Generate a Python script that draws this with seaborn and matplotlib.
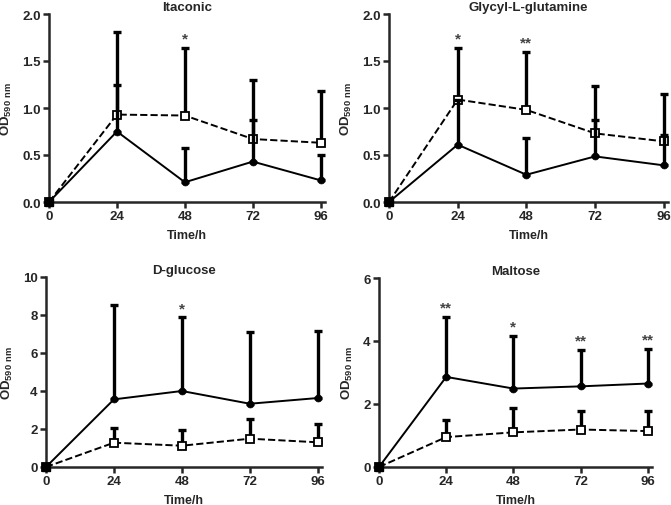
import numpy as np
import pandas as pd
import matplotlib
matplotlib.use('Agg')
import matplotlib.pyplot as plt
import seaborn as sns

sns.set_style('ticks')
plt.rcParams['font.family'] = ['Liberation Sans', 'DejaVu Sans']
plt.rcParams['font.weight'] = 'bold'
plt.rcParams['mathtext.fontset'] = 'custom'
plt.rcParams['mathtext.rm'] = 'Liberation Sans:bold'
plt.rcParams['mathtext.bf'] = 'Liberation Sans:bold'

hours = [0, 24, 48, 72, 96]
titles = ['Itaconic', 'Glycyl-L-glutamine', 'D-glucose', 'Maltose']

# solid line, filled circles
solid_mean = [
    [0, 0.75, 0.21, 0.43, 0.23],
    [0, 0.61, 0.29, 0.485, 0.39],
    [0, 3.56, 4.00, 3.33, 3.63],
    [0, 2.86, 2.49, 2.56, 2.65],
]
solid_top = [
    [0, 1.25, 0.57, 0.87, 0.50],
    [0, 1.09, 0.68, 0.87, 0.715],
    [0, 8.54, 7.88, 7.09, 7.18],
    [0, 4.76, 4.16, 3.72, 3.75],
]
# dashed line, open squares
square_mean = [
    [0, 0.93, 0.92, 0.67, 0.63],
    [0, 1.09, 0.98, 0.73, 0.645],
    [0, 1.28, 1.12, 1.49, 1.30],
    [0, 0.95, 1.10, 1.19, 1.14],
]
square_top = [
    [0, 1.81, 1.64, 1.30, 1.18],
    [0, 1.64, 1.60, 1.23, 1.15],
    [0, 2.05, 1.95, 2.54, 2.25],
    [0, 1.48, 1.88, 1.77, 1.78],
]
# significance marks: (panel, hour index, text, sits on which series)
stars = [
    (0, 2, '*', 'square'),
    (1, 1, '*', 'square'), (1, 2, '**', 'square'),
    (2, 2, '*', 'solid'),
    (3, 1, '**', 'solid'), (3, 2, '*', 'solid'), (3, 3, '**', 'solid'), (3, 4, '**', 'solid'),
]
ylims = [2.0, 2.0, 10, 6]
yticks = [[0, 0.5, 1.0, 1.5, 2.0], [0, 0.5, 1.0, 1.5, 2.0], [0, 2, 4, 6, 8, 10], [0, 2, 4, 6]]

fig = plt.figure(figsize=(6.71, 5.06), dpi=100)
W, H = 671, 506
boxes = [(49, 15, 325, 203), (389, 15, 668, 203), (46, 278, 322, 468), (379, 279, 652, 468)]
axes = []
for (l, t, r, b) in boxes:
    axes.append(fig.add_axes([l / W, 1 - b / H, (r - l) / W, (b - t) / H]))

for i, ax in enumerate(axes):
    df = pd.DataFrame({
        'hour': hours * 2,
        'od': solid_mean[i] + square_mean[i],
        'grp': ['solid'] * 5 + ['square'] * 5,
    })
    sm = np.array(solid_mean[i]); st = np.array(solid_top[i])
    qm = np.array(square_mean[i]); qt = np.array(square_top[i])
    # one-sided error bars
    ax.errorbar(hours[1:], qm[1:], yerr=[np.zeros(4), (qt - qm)[1:]], fmt='none',
                ecolor='black', elinewidth=2.4, capsize=3, capthick=2.4,
                zorder=2, clip_on=False)
    ax.errorbar(hours[1:], sm[1:], yerr=[np.zeros(4), (st - sm)[1:]], fmt='none',
                ecolor='black', elinewidth=2.4, capsize=3, capthick=2.4,
                zorder=5, clip_on=False)
    sns.lineplot(data=df[df.grp == 'solid'], x='hour', y='od', ax=ax, color='black',
                 lw=1.4, marker='o', markersize=5, markeredgecolor='black',
                 markeredgewidth=0.5, markerfacecolor='black', zorder=3, clip_on=False)
    sns.lineplot(data=df[df.grp == 'square'], x='hour', y='od', ax=ax, color='black',
                 lw=1.4, dashes=(3.5, 2), linestyle='--', marker='s', markersize=5.5,
                 markeredgecolor='black', markerfacecolor='white', markeredgewidth=1.3,
                 zorder=4, clip_on=False)
    ax.plot([0], [0], marker='s', color='black', markersize=6, zorder=6, clip_on=False)

    ax.set_xlim(0, 97.5)
    ax.set_ylim(0, ylims[i])
    ax.set_xticks(hours)
    ax.set_yticks(yticks[i])
    if ylims[i] == 2.0:
        ax.set_yticklabels(['%.1f' % v for v in yticks[i]])
    ax.tick_params(width=1.8, length=4, labelsize=9.5, pad=2)
    for lab in ax.get_xticklabels() + ax.get_yticklabels():
        lab.set_fontweight('bold')
    for s in ['left', 'bottom']:
        ax.spines[s].set_linewidth(1.8)
    sns.despine(ax=ax)
    ax.set_title(titles[i], fontsize=9.5, fontweight='bold', pad=3)
    ax.set_xlabel('Time/h', fontsize=9, fontweight='bold', labelpad=5)
    ax.set_ylabel(r'OD$_{\mathrm{590\ nm}}$', fontsize=9.5, fontweight='bold', labelpad=6)

    for (p, k, txt, which) in stars:
        if p != i:
            continue
        top = square_top[i][k] if which == 'square' else solid_top[i][k]
        ax.text(hours[k], top + ylims[i] * 0.012, txt, ha='center', va='bottom',
                fontsize=11, color='#444444')

fig.savefig('out.png', dpi=100)
